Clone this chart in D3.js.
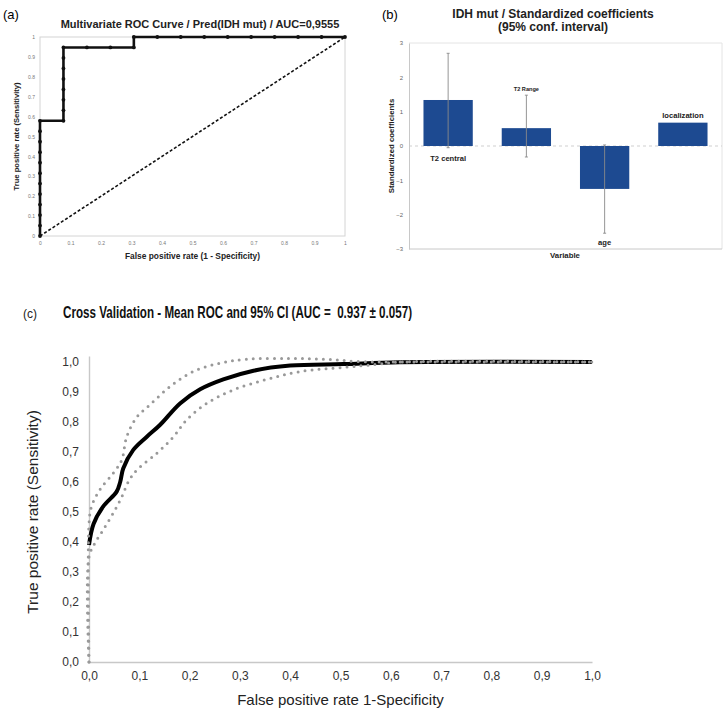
<!DOCTYPE html>
<html>
<head>
<meta charset="utf-8">
<script src="https://cdn.jsdelivr.net/npm/d3@7"></script>
<style>
  body { margin: 0; background: #fff; }
  svg { display: block; font-family: "Liberation Sans", Arial, sans-serif; }
</style>
</head>
<body>
<div id="chart"></div>
<script>
'use strict'

// (a) ROC points of the multivariate model, 19 positives / 13 negatives
const rocFpr = [0, 0, 0, 0, 0, 0, 0, 0, 0, 0, 0, 0,
  0.0769, 0.0769, 0.0769, 0.0769, 0.0769, 0.0769, 0.0769, 0.0769,
  0.1538, 0.2308, 0.3077,
  0.3077, 0.3846, 0.4615, 0.5385, 0.6154, 0.6923, 0.7692, 0.8462, 0.9231, 1]
const rocTpr = [0, 0.0526, 0.1053, 0.1579, 0.2105, 0.2632, 0.3158, 0.3684, 0.4211, 0.4737, 0.5263, 0.5789,
  0.5789, 0.6316, 0.6842, 0.7368, 0.7895, 0.8421, 0.8947, 0.9474,
  0.9474, 0.9474, 0.9474,
  1, 1, 1, 1, 1, 1, 1, 1, 1, 1]
const rocTicks = [0, 0.1, 0.2, 0.3, 0.4, 0.5, 0.6, 0.7, 0.8, 0.9, 1]

// (b) standardized coefficients with 95% CI
const coefNames = ["T2 central", "T2 Range", "age", "localization"]
const coefValues = [1.34, 0.52, -1.25, 0.68]
const coefLower = [-0.05, -0.32, -2.54, null]
const coefUpper = [2.70, 1.48, 0.03, null]
const coefTicks = [-3, -2, -1, 0, 1, 2, 3]

// (c) cross validation mean ROC and 95% CI
const meanFpr = [0, 0.009, 0.028, 0.055, 0.062, 0.068, 0.088, 0.115, 0.141, 0.181, 0.221, 0.267, 0.327, 0.40, 0.506, 0.618, 1.0]
const meanTpr = [0.39, 0.46, 0.518, 0.568, 0.60, 0.645, 0.707, 0.751, 0.79, 0.862, 0.909, 0.942, 0.971, 0.988, 0.993, 0.999, 1.0]
const upperFpr = [0, 0, 0.005, 0.022, 0.048, 0.065, 0.075, 0.095, 0.121, 0.161, 0.207, 0.26, 0.313, 0.40, 0.472, 0.539, 0.618, 1.0]
const upperTpr = [0, 0.46, 0.518, 0.575, 0.629, 0.673, 0.751, 0.816, 0.857, 0.918, 0.968, 0.996, 1.009, 1.012, 1.009, 1.001, 1.0, 1.0]
const lowerFpr = [0, 0, 0.012, 0.028, 0.048, 0.065, 0.078, 0.095, 0.135, 0.168, 0.194, 0.234, 0.287, 0.353, 0.419, 0.506, 0.572, 0.618, 1.0]
const lowerTpr = [0, 0.35, 0.397, 0.44, 0.496, 0.55, 0.6, 0.64, 0.696, 0.751, 0.807, 0.862, 0.907, 0.942, 0.968, 0.982, 0.992, 1.0, 1.0]
const cvTicks = [0, 0.1, 0.2, 0.3, 0.4, 0.5, 0.6, 0.7, 0.8, 0.9, 1.0]

let width = 726
let height = 712
let barColor = "#1d4a91"

const zip = (xs, ys) => xs.map((x, i) => [x, ys[i]])
const comma = d => d3.format(".1f")(d).replace(".", ",")

let svg = d3.select("#chart").append("svg")
  .attr("width", width)
  .attr("height", height)

/*
  (a) ROC curve
*/
function paintRoc(svg) {
  let xa = d3.scaleLinear().domain([0, 1]).range([40, 345])
  let ya = d3.scaleLinear().domain([0, 1]).range([236, 37])
  let g = svg.append("g")

  g.append("text").attr("x", 3).attr("y", 19).style("font-size", "13px").text("(a)")
  g.append("text")
    .attr("x", 200).attr("y", 28)
    .attr("text-anchor", "middle")
    .style("font-size", "11px").style("font-weight", "bold").attr("fill", "#222")
    .text("Multivariate ROC Curve / Pred(IDH mut) / AUC=0,9555")

  g.append("rect")
    .attr("x", xa(0)).attr("y", ya(1))
    .attr("width", xa(1) - xa(0)).attr("height", ya(0) - ya(1))
    .attr("fill", "none").attr("stroke", "#d4d4d4")

  g.append("g")
    .attr("transform", "translate(" + xa(0) + ",0)")
    .call(d3.axisLeft(ya).tickValues(rocTicks).tickSize(0).tickPadding(5).tickFormat(d => d))
    .call(s => s.select(".domain").remove())
    .selectAll("text").style("font-size", "5px").attr("fill", "#777")

  g.append("g")
    .attr("transform", "translate(0," + ya(0) + ")")
    .call(d3.axisBottom(xa).tickValues(rocTicks).tickSize(0).tickPadding(5).tickFormat(d => d))
    .call(s => s.select(".domain").remove())
    .selectAll("text").style("font-size", "5px").attr("fill", "#777")

  // chance line
  g.append("path")
    .datum([[0, 0], [1, 1]])
    .attr("d", d3.line().x(d => xa(d[0])).y(d => ya(d[1])))
    .attr("fill", "none").attr("stroke", "#111")
    .attr("stroke-width", 1.6).attr("stroke-dasharray", "3,2")

  let pts = zip(rocFpr, rocTpr)
  g.append("path")
    .datum(pts)
    .attr("d", d3.line().x(d => xa(d[0])).y(d => ya(d[1])))
    .attr("fill", "none").attr("stroke", "#111").attr("stroke-width", 2.6)

  g.selectAll(".rocdot")
    .data(pts)
    .enter()
    .append("circle")
    .attr("class", "rocdot")
    .attr("cx", d => xa(d[0]))
    .attr("cy", d => ya(d[1]))
    .attr("r", 1.9)
    .attr("fill", "#111")

  g.append("text")
    .attr("x", (xa(0) + xa(1)) / 2).attr("y", 259)
    .attr("text-anchor", "middle")
    .style("font-size", "8.4px").style("font-weight", "bold").attr("fill", "#222")
    .text("False positive rate (1 - Specificity)")

  g.append("text")
    .attr("transform", "translate(19," + (ya(0) + ya(1)) / 2 + ")rotate(-90)")
    .attr("text-anchor", "middle")
    .style("font-size", "7.6px").style("font-weight", "bold").attr("fill", "#222")
    .text("True positive rate (Sensitivity)")
}

/*
  (b) standardized coefficients
*/
function paintCoef(svg) {
  let xb = d3.scaleBand().domain(coefNames).range([409, 722]).paddingInner(0.37).paddingOuter(0.185)
  let yb = d3.scaleLinear().domain([-3, 3]).range([249, 43])
  let g = svg.append("g")

  g.append("text").attr("x", 382).attr("y", 19).style("font-size", "13px").text("(b)")
  g.append("text")
    .attr("x", 553).attr("y", 18)
    .attr("text-anchor", "middle")
    .style("font-size", "12px").style("font-weight", "bold").attr("fill", "#222")
    .text("IDH mut / Standardized coefficients")
  g.append("text")
    .attr("x", 553).attr("y", 31)
    .attr("text-anchor", "middle")
    .style("font-size", "12px").style("font-weight", "bold").attr("fill", "#222")
    .text("(95% conf. interval)")

  // frame
  g.append("line").attr("x1", 409).attr("x2", 722).attr("y1", yb(3)).attr("y2", yb(3)).attr("stroke", "#e4e4e4")
  g.append("line").attr("x1", 722).attr("x2", 722).attr("y1", yb(3)).attr("y2", yb(-3)).attr("stroke", "#e4e4e4")
  g.append("line").attr("x1", 409).attr("x2", 722).attr("y1", yb(-3)).attr("y2", yb(-3)).attr("stroke", "#c8c8c8")
  g.append("line").attr("x1", 409).attr("x2", 722).attr("y1", yb(0)).attr("y2", yb(0))
    .attr("stroke", "#cfcfcf").attr("stroke-dasharray", "3,3")

  g.append("g")
    .attr("transform", "translate(409,0)")
    .call(d3.axisLeft(yb).tickValues(coefTicks).tickSize(0).tickPadding(6).tickFormat(d3.format("d")))
    .call(s => s.select(".domain").attr("stroke", "#c8c8c8"))
    .selectAll("text").style("font-size", "6px").attr("fill", "#666")

  g.selectAll(".bar")
    .data(coefNames)
    .enter()
    .append("rect")
    .attr("class", "bar")
    .attr("x", d => xb(d))
    .attr("width", xb.bandwidth())
    .attr("y", (d, i) => yb(Math.max(0, coefValues[i])))
    .attr("height", (d, i) => Math.abs(yb(coefValues[i]) - yb(0)))
    .attr("fill", barColor)

  coefNames.forEach((name, i) => {
    let cx = xb(name) + xb.bandwidth() / 2
    if (coefLower[i] !== null) {
      g.append("line").attr("x1", cx).attr("x2", cx)
        .attr("y1", yb(coefLower[i])).attr("y2", yb(coefUpper[i]))
        .attr("stroke", "#8a8a8a").attr("stroke-width", 0.9)
      ;[coefLower[i], coefUpper[i]].forEach(v => {
        g.append("line").attr("x1", cx - 1.5).attr("x2", cx + 1.5)
          .attr("y1", yb(v)).attr("y2", yb(v))
          .attr("stroke", "#8a8a8a").attr("stroke-width", 0.9)
      })
    }
  })

  // variable labels next to the bar ends
  let labelY = [yb(coefLower[0]) + 13, yb(coefUpper[1]) - 4, yb(coefLower[2]) + 12, yb(coefValues[3]) - 5]
  let labelSize = ["7.6px", "5.6px", "7.6px", "7.6px"]
  coefNames.forEach((name, i) => {
    g.append("text")
      .attr("x", xb(name) + xb.bandwidth() / 2).attr("y", labelY[i])
      .attr("text-anchor", "middle")
      .style("font-size", labelSize[i]).style("font-weight", "bold").attr("fill", "#222")
      .text(name)
  })

  g.append("text")
    .attr("x", 565).attr("y", 258)
    .attr("text-anchor", "middle")
    .style("font-size", "7.8px").style("font-weight", "bold").attr("fill", "#222")
    .text("Variable")
  g.append("text")
    .attr("transform", "translate(394," + yb(0) + ")rotate(-90)")
    .attr("text-anchor", "middle")
    .style("font-size", "7.8px").style("font-weight", "bold").attr("fill", "#222")
    .text("Standardized coefficients")
}

/*
  (c) cross validation
*/
function paintCv(svg) {
  let xc = d3.scaleLinear().domain([0, 1]).range([89, 592])
  let yc = d3.scaleLinear().domain([0, 1.02]).range([662, 356])
  let g = svg.append("g")

  g.append("text")
    .attr("x", 23).attr("y", 318)
    .style("font-family", "'Liberation Sans Narrow', 'Arial Narrow', sans-serif")
    .style("font-size", "12px").attr("fill", "#222")
    .text("(c)")
  g.append("text")
    .attr("x", 63).attr("y", 318)
    .attr("textLength", 349).attr("lengthAdjust", "spacingAndGlyphs")
    .style("white-space", "pre")
    .style("font-family", "'Liberation Sans Narrow', 'Arial Narrow', sans-serif")
    .style("font-size", "16.5px").style("font-weight", "bold").attr("fill", "#111")
    .text("Cross Validation - Mean ROC and 95% CI (AUC =  0.937 \u00b1 0.057)")

  g.append("g")
    .attr("transform", "translate(" + xc(0) + ",0)")
    .call(d3.axisLeft(yc).tickValues(cvTicks).tickSize(0).tickPadding(10).tickFormat(comma))
    .call(s => s.select(".domain").attr("stroke", "#c8c8c8").attr("stroke-width", 1.4))
    .selectAll("text").style("font-size", "12px").attr("fill", "#333")

  g.append("g")
    .attr("transform", "translate(0," + yc(0) + ")")
    .call(d3.axisBottom(xc).tickValues(cvTicks).tickSize(0).tickPadding(9).tickFormat(comma))
    .call(s => s.select(".domain").attr("stroke", "#c8c8c8").attr("stroke-width", 1.4))
    .selectAll("text").style("font-size", "12px").attr("fill", "#333")

  let line = d3.line()
    .x(d => xc(d[0]))
    .y(d => yc(d[1]))
    .curve(d3.curveCatmullRom.alpha(0.5))

  g.append("path")
    .datum(zip(meanFpr, meanTpr))
    .attr("d", line)
    .attr("fill", "none").attr("stroke", "#000").attr("stroke-width", 4)

  ;[zip(upperFpr, upperTpr), zip(lowerFpr, lowerTpr)].forEach(ci => {
    g.append("path")
      .datum(ci)
      .attr("d", line)
      .attr("fill", "none").attr("stroke", "#999")
      .attr("stroke-width", 3).attr("stroke-linecap", "round")
      .attr("stroke-dasharray", "0,7")
  })

  g.append("text")
    .attr("x", (xc(0) + xc(1)) / 2).attr("y", 705)
    .attr("text-anchor", "middle")
    .style("font-size", "15px").attr("fill", "#222")
    .text("False positive rate 1-Specificity")
  g.append("text")
    .attr("transform", "translate(38," + (yc(0) + yc(1)) / 2 + ")rotate(-90)")
    .attr("text-anchor", "middle")
    .style("font-size", "15.5px").attr("fill", "#222")
    .text("True positive rate (Sensitivity)")
}

paintRoc(svg)
paintCoef(svg)
paintCv(svg)
</script>
</body>
</html>
